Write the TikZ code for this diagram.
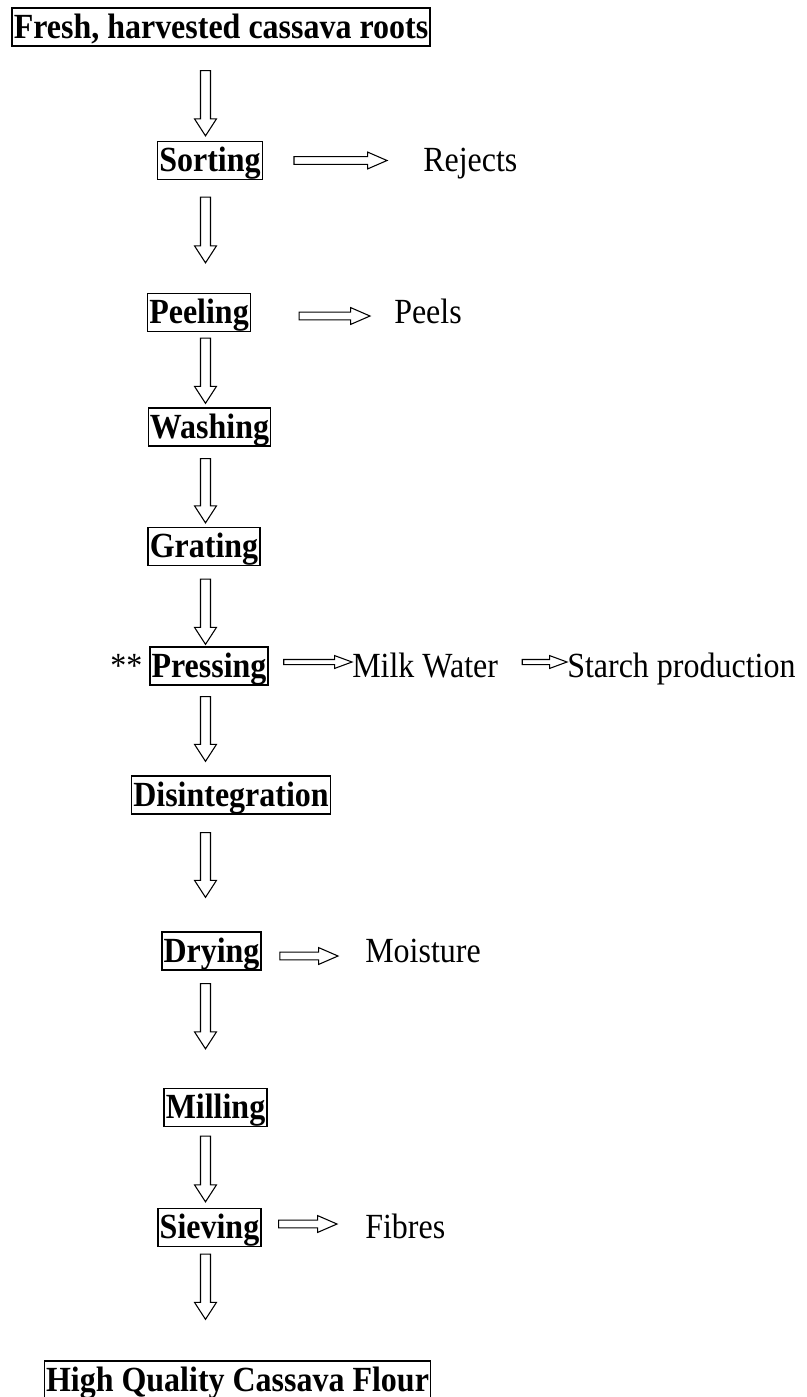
\documentclass[tikz,border=0pt]{standalone}
\usepackage{fontspec}
\setmainfont{Liberation Serif}[FakeStretch=0.905]
\usetikzlibrary{calc}
\begin{document}
\fontsize{26.5pt}{31pt}\selectfont
\begin{tikzpicture}[x=0.75pt,y=-0.75pt,
    stepbox/.style={draw, line width=1.1pt, font=\bfseries, inner xsep=1.2pt,
      inner ysep=1pt, text height=21.7pt, text depth=4.7pt},
    outtext/.style={anchor=west, inner sep=0pt, text height=21.7pt, text depth=4.7pt},
    arrowline/.style={draw, line width=0.8pt, line join=miter},
    blockdown/.style={arrowline, to path={let \p1=(\tikztostart), \p2=(\tikztotarget) in
      (\x1-3.75pt,\y1) -- (\x1+3.75pt,\y1) -- (\x1+3.75pt,\y2+12.75pt)
      -- (\x1+8.25pt,\y2+12.75pt) -- (\x1,\y2) -- (\x1-8.25pt,\y2+12.75pt)
      -- (\x1-3.75pt,\y2+12.75pt) -- cycle}},
    harrow/.style n args={3}{arrowline, to path={let \p1=(\tikztostart), \p2=(\tikztotarget) in
      (\x1,\y1+#1) -- (\x2-#3,\y1+#1) -- (\x2-#3,\y1+#2) -- (\x2,\y1)
      -- (\x2-#3,\y1-#2) -- (\x2-#3,\y1-#1) -- (\x1,\y1-#1) -- cycle}},
    blockright/.style={harrow={2.9pt}{6.3pt}{14.5pt}},
    thinright/.style={harrow={1.9pt}{4.8pt}{13pt}}]
  \useasboundingbox (0,0) rectangle (807,1397);
  \coordinate (spine) at (205.5,0);
  % process steps
  \node[stepbox] (roots) at (221,27) {Fresh, harvested cassava roots};
  \node[stepbox] (sorting) at (210,160.5) {Sorting};
  \node[stepbox] (peeling) at (199,312.5) {Peeling};
  \node[stepbox] (washing) at (209.5,427) {Washing};
  \node[stepbox] (grating) at (204,546.5) {Grating};
  \node[stepbox] (pressing) at (209,666) {Pressing};
  \node[stepbox] (disint) at (231,795) {Disintegration};
  \node[stepbox] (drying) at (211.5,951) {Drying};
  \node[stepbox] (milling) at (215.5,1107.5) {Milling};
  \node[stepbox] (sieving) at (209.5,1227.5) {Sieving};
  \node[stepbox] (flour) at (237.5,1380) {High Quality Cassava Flour};
  % by-products
  \node[outtext] (rejects) at (423,160.5) {Rejects};
  \node[outtext] (peels) at (394,312.5) {Peels};
  \node[outtext] (stars) at (110,666) {**};
  \node[outtext] (milk) at (352,666) {Milk Water};
  \node[outtext] (starch) at (567,666) {Starch production};
  \node[outtext] (moisture) at (365,951) {Moisture};
  \node[outtext] (fibres) at (365,1227.5) {Fibres};
  % main line
  \draw[blockdown] ($(roots.south-|spine)+(0,24)$) to ($(sorting.north-|spine)+(0,-5)$);
  \draw[blockdown] ($(sorting.south-|spine)+(0,17)$) to ($(peeling.north-|spine)+(0,-30)$);
  \draw[blockdown] ($(peeling.south-|spine)+(0,6)$) to ($(washing.north-|spine)+(0,-4)$);
  \draw[blockdown] ($(washing.south-|spine)+(0,12)$) to ($(grating.north-|spine)+(0,-4)$);
  \draw[blockdown] ($(grating.south-|spine)+(0,13)$) to ($(pressing.north-|spine)+(0,-2)$);
  \draw[blockdown] ($(pressing.south-|spine)+(0,11)$) to ($(disint.north-|spine)+(0,-14)$);
  \draw[blockdown] ($(disint.south-|spine)+(0,18)$) to ($(drying.north-|spine)+(0,-34)$);
  \draw[blockdown] ($(drying.south-|spine)+(0,13)$) to ($(milling.north-|spine)+(0,-39)$);
  \draw[blockdown] ($(milling.south-|spine)+(0,9)$) to ($(sieving.north-|spine)+(0,-6)$);
  \draw[blockdown] ($(sieving.south-|spine)+(0,7)$) to ($(flour.north-|spine)+(0,-41)$);
  % side streams
  \draw[blockright] ($(sorting.east)+(31,0)$) to ($(rejects.west)+(-36,0)$);
  \draw[blockright] ($(peeling.east)+(48,3.5)$) to ($(peels.west)+(-24,3.5)$);
  \draw[thinright] ($(pressing.east)+(15,-4)$) to ($(milk.west)+(0,-4)$);
  \draw[thinright] ($(milk.east)+(24,-4)$) to ($(starch.west)+(0,-4)$);
  \draw[blockright] ($(drying.east)+(18,5)$) to ($(moisture.west)+(-27,5)$);
  \draw[blockright] ($(sieving.east)+(17,-3.5)$) to ($(fibres.west)+(-28,-3.5)$);
\end{tikzpicture}
\end{document}
